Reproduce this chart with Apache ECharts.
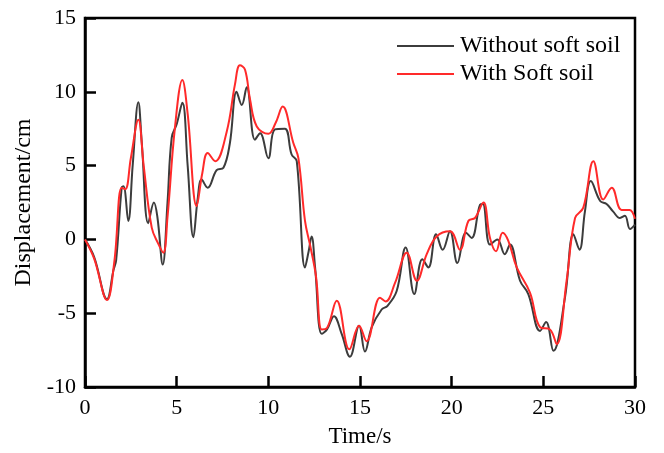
<!DOCTYPE html>
<html>
<head>
<meta charset="utf-8">
<script src="https://cdn.jsdelivr.net/npm/echarts@6/dist/echarts.min.js"></script>
<style>
  html, body { margin: 0; padding: 0; background: #fff; }
  #chart { width: 664px; height: 453px; }
</style>
</head>
<body>
<div id="chart"></div>
<script>
// values
var timeWithout = [0, 0.5, 1.2, 1.55, 1.7, 2.0, 2.1, 2.36, 2.6, 2.91, 3.1, 3.45, 3.76, 3.95, 4.24, 4.5, 4.73, 5.0, 5.31, 5.6, 5.91, 6.15, 6.36, 6.69, 7.18, 7.55, 7.9, 8.27, 8.55, 8.82, 9.27, 9.55, 10.0, 10.36, 10.9, 11.27, 11.55, 12.0, 12.2, 12.36, 12.55, 12.91, 13.2, 13.58, 14.0, 14.45, 14.95, 15.27, 15.64, 16.18, 16.5, 17.0, 17.49, 17.96, 18.4, 18.73, 19.15, 19.51, 19.91, 20.31, 20.78, 21.09, 21.55, 21.7, 22.09, 22.49, 22.9, 23.18, 23.73, 24.18, 24.82, 25.15, 25.55, 26.18, 26.64, 26.97, 27.27, 27.59, 28.1, 28.45, 28.8, 29.18, 29.45, 29.73, 30];
var dispWithout = [0, -1.2, -4.05, -2.1, -1.4, 3.5, 3.6, 1.25, 5, 9.3, 6.5, 1.1, 2.5, 1.5, -1.7, 2.5, 6.9, 7.8, 9.25, 5, 0.15, 2.8, 4.05, 3.5, 4.7, 4.85, 6.5, 10.0, 9.1, 10.3, 6.75, 7.2, 5.5, 7.45, 7.5, 5.75, 5.3, -1.9, -0.8, 0.2, -1.9, -6.4, -6.1, -5.2, -6.4, -7.95, -5.85, -7.6, -5.95, -4.75, -4.5, -3.5, -0.55, -3.7, -1.35, -1.9, 0.35, -0.7, 0.55, -1.6, 0.45, 0.1, 2.35, 2.4, -0.35, 0, -1.0, -0.35, -2.8, -3.7, -6.2, -5.6, -7.55, -3.95, 0.35, -0.7, 1.9, 3.95, 2.6, 2.4, 1.9, 1.45, 1.6, 0.7, 1.0];

var timeWith = [0, 0.5, 1.2, 1.6, 2.0, 2.2, 2.5, 2.91, 3.2, 3.64, 4.0, 4.27, 4.5, 4.9, 5.31, 5.6, 6.09, 6.4, 6.69, 7.1, 7.73, 8.18, 8.45, 8.73, 9.0, 9.37, 10.0, 10.4, 10.78, 11.36, 11.64, 12.0, 12.27, 12.6, 12.91, 13.2, 13.73, 14.42, 14.95, 15.36, 16.09, 16.4, 16.91, 17.55, 18.1, 18.64, 19.18, 19.91, 20.45, 20.91, 21.27, 21.73, 22.09, 22.42, 22.78, 23.09, 23.55, 24.27, 24.82, 25.36, 25.73, 26.27, 26.73, 27.18, 27.73, 28.27, 28.73, 29.27, 29.7, 30];
var dispWith = [0, -1.3, -4.1, -1.5, 3.5, 3.4, 5.5, 8.1, 5, 0.8, -0.3, -0.9, 1.5, 7.5, 10.8, 8.5, 2.25, 4.5, 5.85, 5.3, 7.3, 10.5, 11.8, 11.5, 9.5, 7.65, 7.15, 7.9, 9.0, 6.55, 5.5, 1.25, -0.35, -2.5, -6.1, -6.0, -4.15, -7.45, -5.85, -6.9, -3.95, -4.2, -2.95, -0.9, -2.8, -1.0, 0.2, 0.55, -0.7, 1.25, 1.45, 2.5, 0.1, -0.8, 0.45, -0.1, -1.9, -3.6, -5.95, -6.1, -7.1, -2.8, 1.45, 2.15, 5.3, 2.7, 3.5, 2.0, 2.0, 1.4];

var seriesNames = ['Without soft soil', 'With Soft soil'];

function pairs(ts, vs) {
  return ts.map(function (t, i) { return [t, vs[i]]; });
}

var chart = echarts.init(document.getElementById('chart'));
var font = 'Liberation Serif';

chart.setOption({
  animation: false,
  grid: {
    left: 85, right: 29, top: 18, bottom: 65,
    show: true, borderColor: '#000', borderWidth: 2.5
  },
  legend: {
    orient: 'vertical',
    left: 392, top: 29,
    itemWidth: 57, itemHeight: 2, itemGap: 4,
    icon: 'rect',
    textStyle: { fontFamily: font, fontSize: 24, lineHeight: 24, color: '#000', padding: [0, 0, 0, 1] },
    data: seriesNames
  },
  xAxis: {
    type: 'value', min: 0, max: 30, interval: 5,
    name: 'Time/s', nameLocation: 'middle', nameGap: 38,
    nameTextStyle: { fontFamily: font, fontSize: 23, color: '#000' },
    axisLine: { show: true, onZero: false, lineStyle: { color: '#000', width: 2.5 } },
    axisTick: { inside: true, length: 11, lineStyle: { color: '#000', width: 2.5 } },
    axisLabel: { fontFamily: font, fontSize: 22, color: '#000', margin: 10 },
    splitLine: { show: false }
  },
  yAxis: {
    type: 'value', min: -10, max: 15, interval: 5,
    name: 'Displacement/cm', nameLocation: 'middle', nameGap: 46,
    nameTextStyle: { fontFamily: font, fontSize: 24, color: '#000' },
    axisLine: { show: true, onZero: false, lineStyle: { color: '#000', width: 2.5 } },
    axisTick: { inside: true, length: 11, lineStyle: { color: '#000', width: 2.5 } },
    axisLabel: { fontFamily: font, fontSize: 22, color: '#000', margin: 9 },
    splitLine: { show: false }
  },
  series: [
    {
      name: seriesNames[0], type: 'line', smooth: 0.4, showSymbol: false,
      data: pairs(timeWithout, dispWithout),
      itemStyle: { color: '#3c3c3c' },
      lineStyle: { color: '#3c3c3c', width: 2 }
    },
    {
      name: seriesNames[1], type: 'line', smooth: 0.4, showSymbol: false,
      data: pairs(timeWith, dispWith),
      itemStyle: { color: '#ff2a2a' },
      lineStyle: { color: '#ff2a2a', width: 2 }
    }
  ]
});
</script>
</body>
</html>
